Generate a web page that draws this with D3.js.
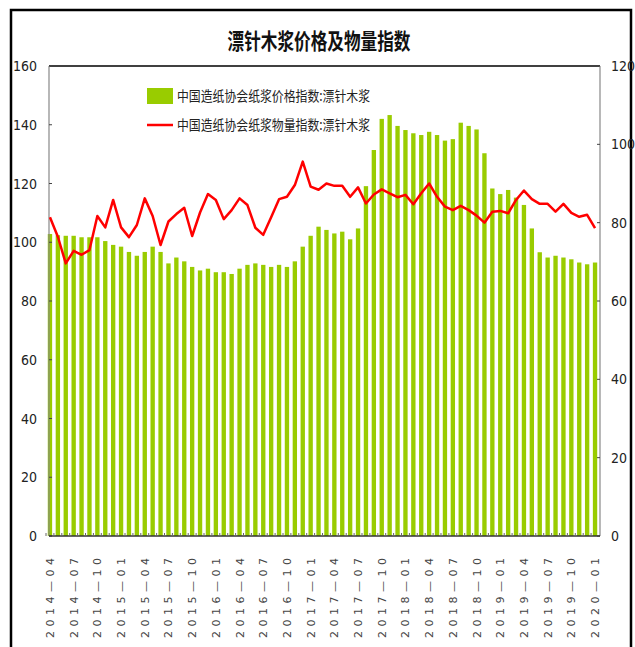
<!DOCTYPE html>
<html>
<head>
<meta charset="utf-8">
<script src="https://cdn.jsdelivr.net/npm/d3@7"></script>
<style>
  body { margin: 0; background: #fff; }
  svg { display: block; }
  .tick-label { font-family: "Liberation Sans Narrow", "DejaVu Sans Condensed", "Liberation Sans", sans-serif; font-size: 14px; fill: #222; }
</style>
</head>
<body>
<svg id="svgID" width="635" height="647"></svg>
<script>
// months 2014-04 .. 2020-01
var months = [];
for (var yy = 2014; yy <= 2020; yy++) {
  for (var mm = 1; mm <= 12; mm++) {
    if ((yy == 2014 && mm < 4) || (yy == 2020 && mm > 1)) continue;
    months.push(yy + "-" + (mm < 10 ? "0" + mm : mm));
  }
}

// 中国造纸协会纸浆价格指数:漂针木浆 (left axis)
var priceIndex = [
  102.8, 102.4, 102.2, 102.2, 101.7, 101.7, 101.7, 100.4, 99.1, 98.5,
  96.7, 95.4, 96.7, 98.5, 96.7, 92.8, 94.8, 93.5, 91.6, 90.4,
  91.0, 89.8, 89.8, 89.2, 91.0, 92.3, 92.8, 92.3, 91.6, 92.3,
  91.6, 93.5, 98.5, 102.2, 105.3, 104.2, 103.0, 103.6, 101.0, 104.7,
  119.1, 131.4, 142.0, 143.3, 139.6, 138.2, 137.1, 136.5, 137.6, 136.5,
  134.6, 135.1, 140.7, 139.6, 138.4, 130.3, 118.3, 116.4, 117.8, 115.2,
  112.7, 104.7, 96.6, 94.8, 95.4, 94.8, 94.2, 93.1, 92.5, 93.1
];

// 中国造纸协会纸浆物量指数:漂针木浆 (right axis)
var volumeIndex = [
  81.4, 76.4, 69.6, 72.8, 71.8, 73.0, 81.7, 78.8, 85.8, 78.8,
  76.3, 79.4, 86.2, 81.7, 74.3, 80.3, 82.2, 83.8, 76.6, 82.6,
  87.3, 85.8, 80.9, 83.2, 86.2, 84.5, 78.7, 76.9, 81.4, 86.0,
  86.6, 89.6, 95.6, 89.2, 88.4, 90.0, 89.4, 89.4, 86.6, 89.0,
  84.9, 87.2, 88.5, 87.5, 86.5, 87.1, 84.7, 87.5, 90.0, 86.6,
  84.1, 83.2, 84.3, 83.2, 81.8, 80.0, 82.8, 83.0, 82.4, 85.8,
  88.2, 86.0, 84.8, 84.8, 82.8, 84.8, 82.5, 81.5, 82.0, 78.6
];

var leftTicks = [0, 20, 40, 60, 80, 100, 120, 140, 160];
var rightTicks = [0, 20, 40, 60, 80, 100, 120];
var xLabels = months.filter(function(d, i) { return i % 3 == 0; });

var legendNames = ["中国造纸协会纸浆价格指数:漂针木浆", "中国造纸协会纸浆物量指数:漂针木浆"];
var title = "漂针木浆价格及物量指数";

var margin = {left: 49, right: 35, top: 66, bottom: 111};
var W = 635, H = 647;
var svg = d3.select("#svgID");

// outer frame
svg.append("rect")
  .attr("x", 11).attr("y", 10)
  .attr("width", 620).attr("height", 660)
  .attr("fill", "none")
  .attr("stroke", "#000")
  .attr("stroke-width", 2.5);

var xScale = d3.scaleBand()
  .domain(months)
  .range([47, 598])
  .paddingInner(0.45)
  .paddingOuter(0.1);

var yLeft = d3.scaleLinear().domain([0, 160]).range([H - margin.bottom - 0, margin.top]);
var yRight = d3.scaleLinear().domain([0, 120]).range([H - margin.bottom - 0, margin.top]);
var x0 = margin.left, x1 = W - margin.right;

// title
svg.append("text")
  .attr("x", 319).attr("y", 49)
  .attr("text-anchor", "middle")
  .attr("font-family", "'Noto Sans CJK SC', sans-serif")
  .attr("font-weight", "bold")
  .attr("font-size", 22)
  .attr("textLength", 183)
  .attr("lengthAdjust", "spacingAndGlyphs")
  .attr("fill", "#111")
  .text(title);

var g = svg.append("g");

// bars
g.selectAll(".bar")
  .data(priceIndex)
  .enter()
  .append("rect")
    .attr("class", "bar")
    .attr("x", function(d, i) { return xScale(months[i]); })
    .attr("y", function(d) { return yLeft(d); })
    .attr("width", xScale.bandwidth())
    .attr("height", function(d) { return yLeft(0) - yLeft(d); })
    .attr("fill", "#99cc00");

// top border
g.append("line")
  .attr("x1", x0).attr("x2", x1)
  .attr("y1", margin.top).attr("y2", margin.top)
  .attr("stroke", "#000").attr("stroke-width", 1.5);

// left axis
g.append("line")
  .attr("x1", x0).attr("x2", x0)
  .attr("y1", margin.top).attr("y2", yLeft(0))
  .attr("stroke", "#888").attr("stroke-width", 1.2);
g.selectAll(".ltick")
  .data(leftTicks)
  .enter()
  .append("line")
    .attr("x1", x0).attr("x2", x0 + 3)
    .attr("y1", function(d) { return yLeft(d); })
    .attr("y2", function(d) { return yLeft(d); })
    .attr("stroke", "#444");
g.selectAll(".llab")
  .data(leftTicks)
  .enter()
  .append("text")
    .attr("class", "tick-label")
    .attr("x", 37)
    .attr("y", function(d) { return yLeft(d) + 5; })
    .attr("text-anchor", "end")
    .text(function(d) { return d; });

// right axis
g.append("line")
  .attr("x1", x1).attr("x2", x1)
  .attr("y1", margin.top).attr("y2", yRight(0))
  .attr("stroke", "#888").attr("stroke-width", 1.2);
g.selectAll(".rtick")
  .data(rightTicks)
  .enter()
  .append("line")
    .attr("x1", x1 - 3).attr("x2", x1)
    .attr("y1", function(d) { return yRight(d); })
    .attr("y2", function(d) { return yRight(d); })
    .attr("stroke", "#444");
g.selectAll(".rlab")
  .data(rightTicks)
  .enter()
  .append("text")
    .attr("class", "tick-label")
    .attr("x", 611)
    .attr("y", function(d) { return yRight(d) + 5; })
    .attr("text-anchor", "start")
    .text(function(d) { return d; });

// bottom axis
g.append("line")
  .attr("x1", x0).attr("x2", x1)
  .attr("y1", yLeft(0)).attr("y2", yLeft(0))
  .attr("stroke", "#333").attr("stroke-width", 1.5);
g.selectAll(".btick")
  .data(months)
  .enter()
  .append("line")
    .attr("x1", function(d) { return xScale(d) - xScale.step() * xScale.paddingInner() / 2; })
    .attr("x2", function(d) { return xScale(d) - xScale.step() * xScale.paddingInner() / 2; })
    .attr("y1", yLeft(0)).attr("y2", yLeft(0) - 3)
    .attr("stroke", "#666");

g.selectAll(".xlab")
  .data(xLabels)
  .enter()
  .append("text")
    .attr("transform", function(d) {
      return "translate(" + (xScale(d) + xScale.bandwidth() / 2 + 4) + ",638) rotate(-90)";
    })
    .attr("font-family", "'DejaVu Sans', sans-serif")
    .attr("font-size", 11)
    .attr("fill", "#444")
    .attr("textLength", 80)
    .attr("lengthAdjust", "spacing")
    .text(function(d) { return d.replace("-", "—"); });

// volume line
var line = d3.line()
  .x(function(d, i) { return xScale(months[i]) + xScale.bandwidth() / 2; })
  .y(function(d) { return yRight(d); });

g.append("path")
  .datum(volumeIndex)
  .attr("d", line)
  .attr("fill", "none")
  .attr("stroke", "#ff0000")
  .attr("stroke-width", 2.5)
  .attr("stroke-linejoin", "round");

// legend
var lg = svg.append("g");
lg.append("rect")
  .attr("x", 147).attr("y", 88)
  .attr("width", 26).attr("height", 16)
  .attr("fill", "#99cc00");
lg.append("line")
  .attr("x1", 147).attr("x2", 173)
  .attr("y1", 125).attr("y2", 125)
  .attr("stroke", "#ff0000").attr("stroke-width", 2.5);
lg.selectAll(".legtext")
  .data(legendNames)
  .enter()
  .append("text")
    .attr("x", 177)
    .attr("y", function(d, i) { return 101 + i * 29; })
    .attr("font-family", "'Noto Sans CJK SC', sans-serif")
    .attr("font-size", 14)
    .attr("fill", "#222")
    .attr("textLength", 193)
    .attr("lengthAdjust", "spacingAndGlyphs")
    .text(function(d) { return d; });
</script>
</body>
</html>
